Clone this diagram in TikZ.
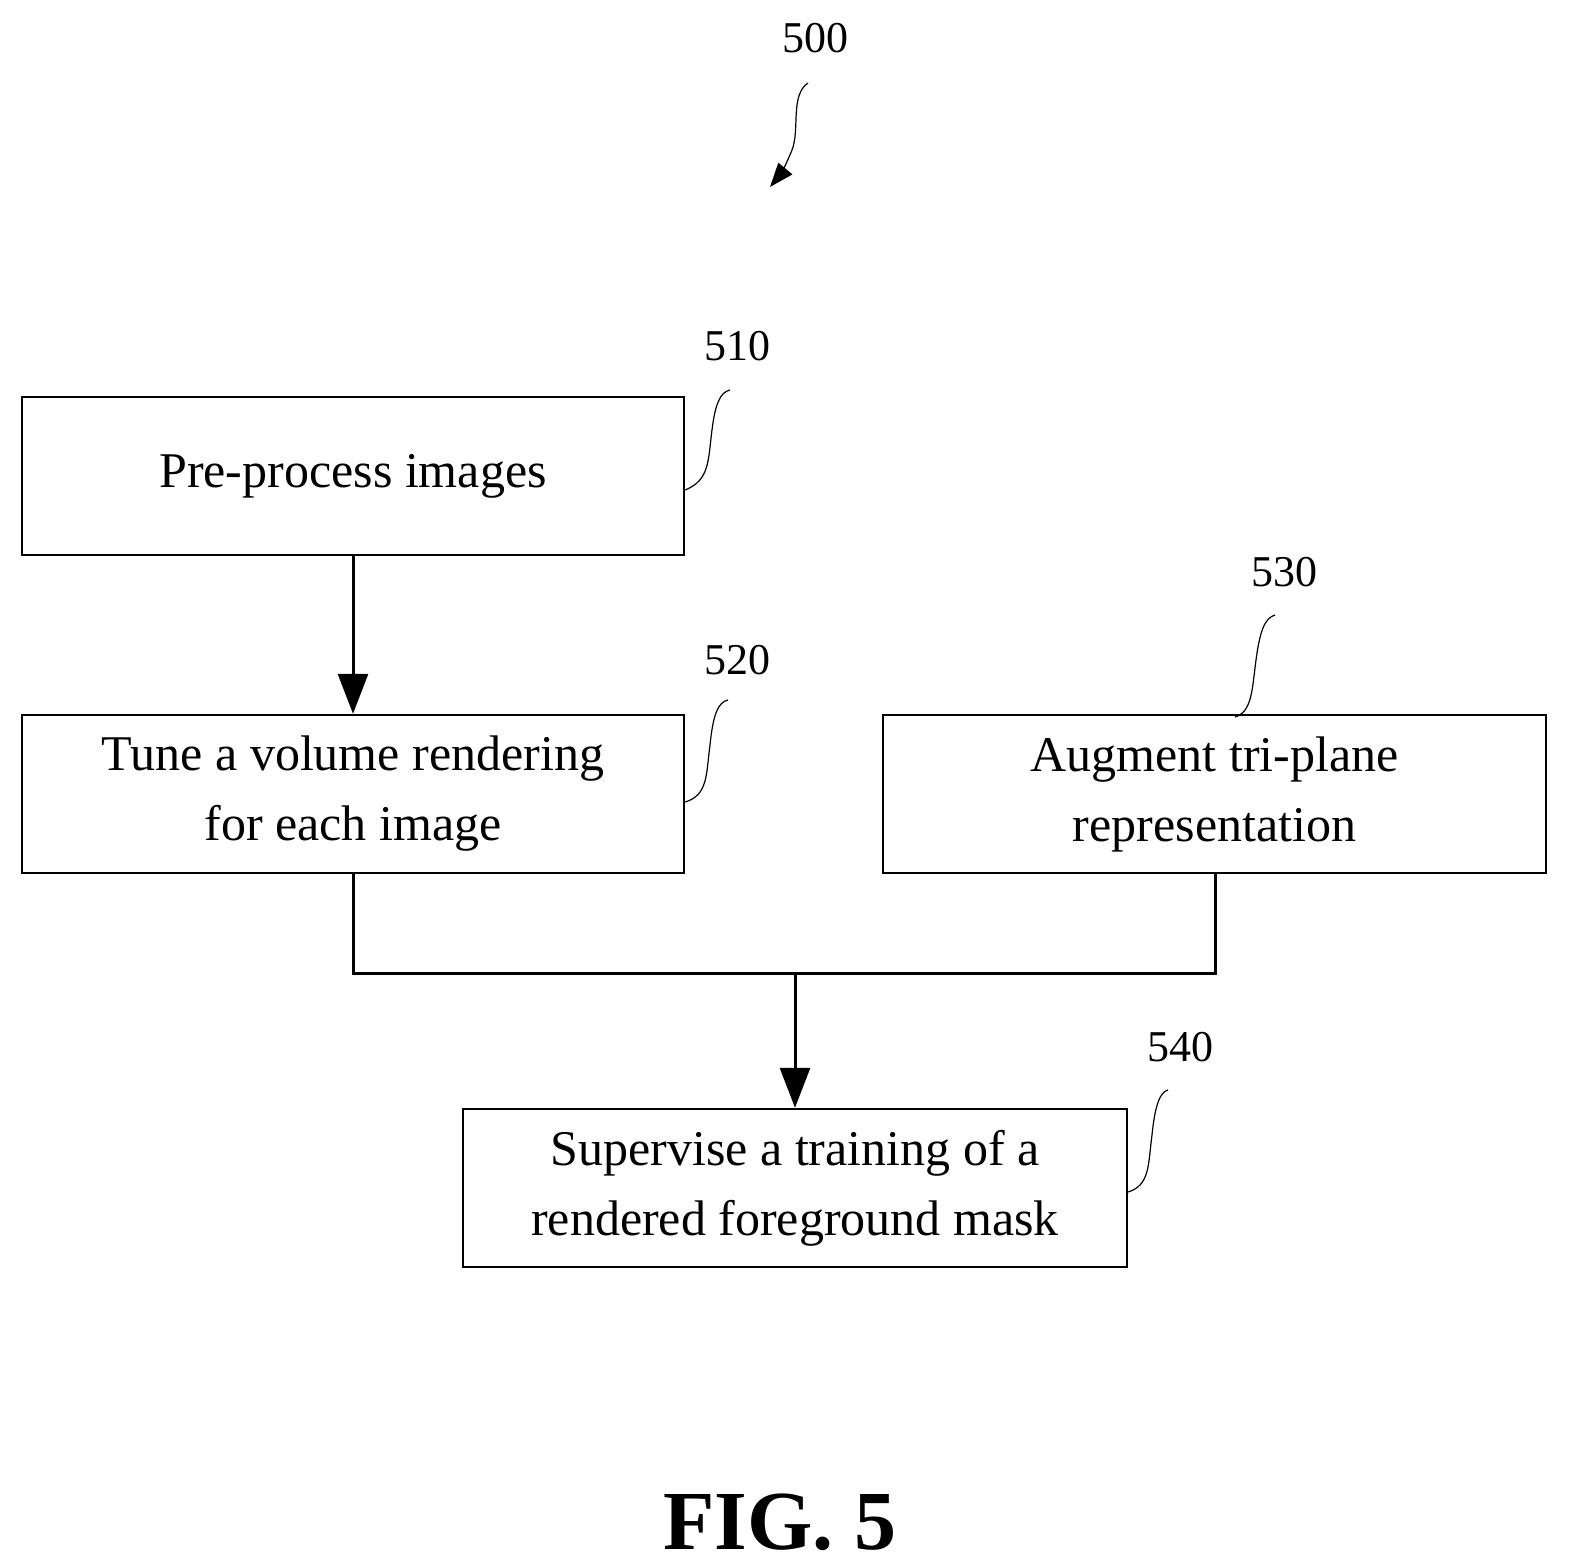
\documentclass[tikz,border=0pt]{standalone}
\usepackage{fontspec}
\setmainfont{Liberation Serif}
\usetikzlibrary{arrows.meta}
\begin{document}
\begin{tikzpicture}[x=0.5pt,y=-0.5pt,
  box/.style={draw,line width=1.2pt,minimum width=331pt,minimum height=79pt,align=center,font=\fontsize{25}{35}\selectfont,inner sep=0pt},
  lab/.style={font=\fontsize{22}{26}\selectfont},
  arr/.style={line width=1.5pt,-{Triangle[length=20pt,width=15pt]}},
  lead/.style={line width=0.6pt}]
\useasboundingbox (0,0) rectangle (1570,1567);
\node[box] (b510) at (353,476) {Pre-process images};
\node[box] (b520) at (353,794) {Tune a volume rendering\\for each image};
\node[box,minimum width=331.5pt] (b530) at (1214.5,794) {Augment tri-plane\\representation};
\node[box,minimum width=332pt] (b540) at (795,1188) {Supervise a training of a\\rendered foreground mask};
\node[lab] (l500) at (815,38) {500};
\node[lab] (l510) at (737,346) {510};
\node[lab] (l520) at (737,660) {520};
\node[lab] (l530) at (1284,572) {530};
\node[lab] (l540) at (1180,1047) {540};
\node[font=\bfseries\fontsize{42}{48}\selectfont] (fig) at (780,1522) {FIG. 5};
\coordinate (m1) at (353,973); \coordinate (m2) at (1215,973); \coordinate (mc) at (795,973);
\draw[arr] (b510.south) -- (b520.north);
\draw[line width=1.5pt] (b520.south) -- (m1) -- (m2) -- (b530.south -| m2);
\draw[arr] (mc) -- (b540.north);
\coordinate (t500) at (808,83); \coordinate (h500) at (770,187);
\draw[lead,-{Triangle[length=12pt,width=9pt]}] (t500) .. controls (790,95) and (800,130) .. (792,150) .. controls (786,165) and (780,175) .. (h500);
\draw[lead] (b510.east |- 0,490) .. controls (710,480) and (708,460) .. (712,430) .. controls (715,405) and (720,392) .. (730,390);
\draw[lead] (b520.east |- 0,802) .. controls (708,795) and (706,775) .. (710,745) .. controls (713,715) and (718,702) .. (728,700);
\draw[lead] (1235,717) .. controls (1252,712) and (1252,690) .. (1256,660) .. controls (1260,630) and (1265,618) .. (1275,615);
\draw[lead] (b540.east |- 0,1192) .. controls (1150,1185) and (1148,1165) .. (1152,1135) .. controls (1155,1105) and (1160,1092) .. (1168,1090);
\end{tikzpicture}
\end{document}
